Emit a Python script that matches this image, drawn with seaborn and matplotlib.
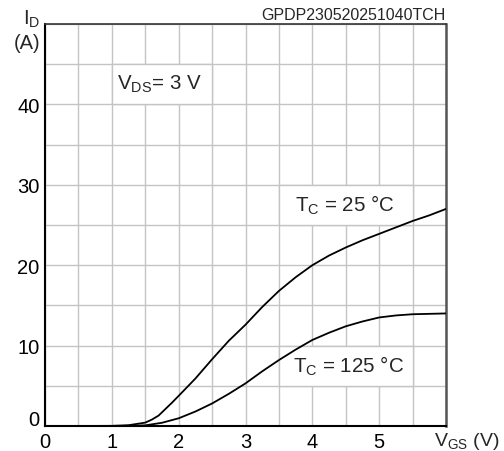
import numpy as np
import pandas as pd
import matplotlib
matplotlib.use("Agg")
import matplotlib.pyplot as plt
from matplotlib.patches import Rectangle
import matplotlib.transforms as mtransforms
import seaborn as sns

# ---- data ----
vgs_25 = [0.0, 0.5, 1.0, 1.25, 1.5, 1.6, 1.7, 1.8, 1.9, 2.0, 2.25, 2.5, 2.75, 3.0,
          3.25, 3.5, 3.75, 4.0, 4.25, 4.5, 4.75, 5.0, 5.25, 5.5, 5.75, 6.0]
id_25 = [0.0, 0.0, 0.02, 0.1, 0.42, 0.8, 1.3, 2.1, 2.9, 3.75, 5.9, 8.3, 10.6, 12.6,
         14.8, 16.8, 18.5, 20.0, 21.2, 22.2, 23.1, 23.9, 24.7, 25.5, 26.2, 27.0]
vgs_125 = [0.0, 1.0, 1.25, 1.5, 1.75, 2.0, 2.25, 2.5, 2.75, 3.0, 3.25, 3.5, 3.75,
           4.0, 4.25, 4.5, 4.75, 5.0, 5.25, 5.5, 5.75, 6.0]
id_125 = [0.0, 0.0, 0.02, 0.08, 0.4, 0.96, 1.8, 2.8, 4.0, 5.3, 6.8, 8.2, 9.5,
          10.7, 11.6, 12.4, 13.0, 13.5, 13.75, 13.9, 13.95, 14.0]

x_ticks = [0, 1, 2, 3, 4, 5]
y_ticks = [0, 10, 20, 30, 40]
x_tick_labels = ["0", "1", "2", "3", "4", "5"]
y_tick_labels = ["0", "10", "20", "30", "40"]

label_texts = [r"V$_\mathrm{DS}$= 3 V", r"T$_\mathrm{C}$ = 25 °C", r"T$_\mathrm{C}$ = 125 °C"]
label_x = [1.71, 4.49, 4.54]
label_y = [41.9, 26.74, 6.72]
box_x0 = [1.0, 3.5, 3.5]
box_x1 = [2.5, 5.5, 5.5]
box_y0 = [40, 25, 5]
box_y1 = [45, 30, 10]

df = pd.concat([
    pd.DataFrame({"VGS": vgs_25, "ID": id_25, "Tc": "25"}),
    pd.DataFrame({"VGS": vgs_125, "ID": id_125, "Tc": "125"}),
], ignore_index=True)

# ---- style ----
sns.set_style("white")
plt.rcParams["font.family"] = ["Liberation Sans", "DejaVu Sans"]
plt.rcParams["mathtext.fontset"] = "custom"
plt.rcParams["mathtext.rm"] = "Liberation Sans"
plt.rcParams["mathtext.it"] = "Liberation Sans:italic"
plt.rcParams["mathtext.bf"] = "Liberation Sans:bold"

GRID = "#c4c4c4"

fig = plt.figure(figsize=(5.04, 4.52), dpi=100)
ax = fig.add_axes([45 / 504, 25 / 452, 401 / 504, 402 / 452])

sns.lineplot(data=df, x="VGS", y="ID", hue="Tc", palette=["black", "black"],
             estimator=None, sort=False, legend=False, linewidth=1.3, ax=ax, zorder=3)

ax.set_xlim(0, 6)
ax.set_ylim(0, 50)
ax.set_xticks(x_ticks)
ax.set_xticklabels(x_tick_labels)
ax.set_yticks(y_ticks)
ax.set_yticklabels(y_tick_labels)
ax.set_xticks(np.arange(0, 6.01, 0.5), minor=True)
ax.set_yticks(np.arange(0, 50.1, 5), minor=True)
ax.grid(True, which="both", color=GRID, linewidth=1.0)
ax.set_axisbelow(True)
ax.tick_params(which="both", length=0, labelsize=14.5, colors="black")
ax.tick_params(axis="x", pad=4)
ax.tick_params(axis="y", pad=4)
ylab0 = ax.get_yticklabels()[0]
ylab0.set_va("bottom")
ylab0.set_transform(ylab0.get_transform() +
                    mtransforms.ScaledTranslation(0, -3 / 100, fig.dpi_scale_trans))
ax.set_xlabel("")
ax.set_ylabel("")

for s in ["left", "bottom"]:
    ax.spines[s].set_color("black")
    ax.spines[s].set_linewidth(1.5)
ax.spines["top"].set_color("#333333")
ax.spines["top"].set_linewidth(1.2)
ax.spines["right"].set_color("#555555")
ax.spines["right"].set_linewidth(1.8)

# label boxes and labels
for x0, x1, y0, y1, t, tx, ty in zip(box_x0, box_x1, box_y0, box_y1,
                                      label_texts, label_x, label_y):
    ax.add_patch(Rectangle((x0, y0), x1 - x0, y1 - y0, facecolor="white",
                           edgecolor=GRID, linewidth=1.0, zorder=1))
    ax.text(tx, ty, t, ha="center", va="baseline", fontsize=14.8, zorder=4)

# axis titles
ax.text(-0.0125, 1.0, r"I$_\mathrm{D}$", transform=ax.transAxes,
        ha="right", va="baseline", fontsize=14.5)
ax.text(-0.0125, 0.94, "(A)", transform=ax.transAxes,
        ha="right", va="baseline", fontsize=14.5)
trans = mtransforms.blended_transform_factory(ax.transData, ax.transAxes)
ax.text(5.82, -0.01, r"V$_\mathrm{GS}$ (V)", transform=trans,
        ha="left", va="top", fontsize=14)
ax.text(1.0, 1.004, "GPDP230520251040TCH", transform=ax.transAxes,
        ha="right", va="bottom", fontsize=11.5)

fig.savefig("out.png", dpi=100)
